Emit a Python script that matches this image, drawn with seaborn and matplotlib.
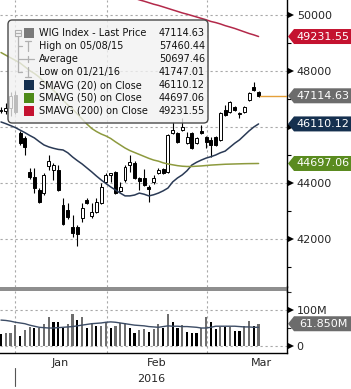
import numpy as np
import matplotlib
matplotlib.use("Agg")
import matplotlib.pyplot as plt
import seaborn as sns
from matplotlib.patches import Rectangle, FancyBboxPatch, Polygon
from matplotlib.lines import Line2D

# ---------------- data ----------------
opens = [46571, 46571, 46679, 47143, 45786, 45607, 44393, 44214, 43750, 43643,
         44607, 44464, 44464, 43214, 43036, 42429, 42429, 42750, 43393, 42821,
         42964, 43286, 44036, 44286, 44393, 43714, 44107, 44643, 44714, 44179,
         44179, 43857, 44036, 44357, 44500, 44393, 45786, 45786, 45893, 45429,
         45786, 45429, 45857, 45643, 45536, 45643, 45536, 46607, 46536, 46714,
         46464, 46536, 46964, 47429, 47250]
highs = [46714, 46857, 47250, 47286, 45857, 45679, 44536, 44536, 43821, 44357,
         45000, 44714, 44643, 43464, 43286, 42857, 42500, 43286, 43464, 43286,
         43464, 44000, 44357, 44357, 44429, 44036, 44643, 45000, 44786, 44214,
         44500, 43929, 44286, 44536, 44536, 45750, 46179, 45821, 46321, 45821,
         45821, 45643, 46071, 45679, 45643, 45679, 46536, 46786, 46929, 46750,
         46536, 46750, 47250, 47607, 47286]
lows = [46500, 46464, 46393, 46464, 45357, 45000, 44143, 43643, 43286, 43571,
        44464, 44107, 43714, 42500, 42714, 42071, 41747, 42607, 43250, 42750,
        42929, 43250, 44000, 44036, 43607, 43679, 44036, 44393, 44143, 43750,
        43893, 43321, 43964, 44321, 44321, 44357, 45750, 45429, 45857, 45393,
        45214, 45393, 45750, 45250, 44929, 45321, 45500, 46393, 46500, 46571,
        46321, 46500, 46929, 47286, 47071]
closes = [46607, 46679, 47107, 46536, 45429, 45286, 44214, 43821, 43321, 44286,
          44786, 44643, 43750, 42536, 42786, 42214, 42179, 43107, 43286, 42964,
          43321, 43857, 44286, 44357, 43643, 43857, 44571, 44750, 44179, 44071,
          43929, 43786, 44179, 44464, 44357, 45714, 45893, 45464, 46000, 45643,
          45250, 45607, 45786, 45464, 45357, 45357, 46500, 46429, 46893, 46607,
          46500, 46714, 47214, 47321, 47114.63]

sma20 = [46180, 46120, 46050, 45980, 45890, 45800, 45700, 45610, 45480, 45360,
         45290, 45240, 45200, 45180, 45080, 44930, 44800, 44680, 44540, 44400,
         44250, 44110, 43980, 43860, 43750, 43640, 43540, 43540, 43570, 43640,
         43600, 43540, 43580, 43640, 43720, 43820, 44040, 44180, 44290, 44440,
         44640, 44740, 44820, 44890, 44940, 45000, 45080, 45140, 45280, 45420,
         45540, 45700, 45860, 46000, 46110.12]
sma50 = [48660, 48565, 48473, 48380, 48286, 48152, 48018, 47911, 47784, 47614,
         47444, 47309, 47139, 46964, 46786, 46643, 46464, 46286, 46107, 45950,
         45840, 45750, 45680, 45590, 45470, 45360, 45250, 45160, 45090, 45020,
         44950, 44880, 44820, 44780, 44720, 44680, 44650, 44620, 44600, 44590,
         44590, 44600, 44610, 44625, 44640, 44650, 44660, 44670, 44675, 44680,
         44685, 44690, 44693, 44695, 44697.06]
sma200 = [52140, 52085, 52030, 51975, 51920, 51865, 51810, 51755, 51700, 51645,
          51590, 51535, 51480, 51425, 51370, 51315, 51260, 51205, 51150, 51095,
          51040, 50985, 50930, 50875, 50820, 50765, 50710, 50655, 50600, 50540,
          50493, 50440, 50386, 50343, 50290, 50236, 50182, 50129, 50075, 50030,
          49980, 49930, 49880, 49830, 49770, 49730, 49680, 49620, 49571, 49520,
          49460, 49400, 49340, 49290, 49231.55]

volume = [33, 35, 37, 58, 29, 44, 54, 49, 49, 60, 80, 68, 68, 51, 60, 88, 72, 80,
          51, 63, 56, 56, 68, 49, 56, 63, 63, 49, 35, 44, 47, 40, 46, 60, 51, 89,
          68, 51, 58, 40, 37, 37, 51, 81, 68, 47, 54, 54, 53, 42, 41, 56, 69, 56,
          61.85]
vol_dir = ["down", "up", "up", "up", "down", "up", "up", "down", "up", "up", "up",
           "down", "down", "down", "up", "up", "down", "up", "down", "up", "down",
           "up", "up", "down", "up", "up", "up", "down", "down", "up", "up", "down",
           "up", "up", "down", "up", "down", "down", "up", "down", "down", "down",
           "up", "up", "down", "down", "up", "down", "up", "down", "down", "up",
           "up", "down", "up"]
vol_ma = [72, 71, 69, 66, 64, 62, 58, 55, 52, 51, 50, 50, 51, 52, 53, 54, 56, 58,
          60, 62, 63, 64, 66, 67, 66, 64, 62, 60, 58, 57, 56, 54, 53, 52, 54, 56,
          55, 55, 54, 54, 53, 52, 50, 50, 52, 55, 55, 55, 55, 55, 54, 53, 53, 52, 52]

month_bounds = [2.9, 22.2, 43.2]
month_centers = [12.5, 32.6, 54.5]
month_labels = ["Jan", "Feb", "Mar"]
year_label = "2016"

price_ticks = [42000, 44000, 46000, 48000, 50000]
price_tick_labels = ["42000", "44000", "", "48000", "50000"]  # 46000 sits under a value tag
price_minor = [41000, 43000, 45000, 47000, 49000]
vol_ticks = [0, 100]
vol_tick_labels = ["0", "100M"]

legend_rows = ["WIG Index - Last Price", "High on 05/08/15", "Average",
               "Low on 01/21/16", "SMAVG (20) on Close", "SMAVG (50) on Close",
               "SMAVG (200) on Close"]
legend_vals = ["47114.63", "57460.44", "50697.46", "41747.01", "46110.12",
               "44697.06", "49231.55"]

# ---------------- styling ----------------
sns.set_style("white")
plt.rcParams["font.family"] = ["DejaVu Sans"]

W, H = 351, 389
fig = plt.figure(figsize=(W / 100, H / 100), dpi=100)
fig.patch.set_facecolor("white")


def fx(px):
    return px / W


def fy(py):
    return 1 - py / H


AXW = 287
ax = fig.add_axes([0, fy(287), fx(AXW), 287 / H])
axv = fig.add_axes([0, fy(353), fx(AXW), 62 / H])

XLIM = (-0.21, 59.96)
idx = np.arange(len(opens))
o = np.array(opens, float)
c = np.array(closes, float)
hi = np.array(highs, float)
lo = np.array(lows, float)
up = c >= o

C_NAVY = "#15304f"
C_GREEN = "#4e8a18"
C_RED = "#c41230"
C_GRAY = "#6c6c6c"
GRID = dict(color="#a8a8a8", lw=0.8, ls=(0, (2, 2.5)))

# ---- main price panel ----
ax.vlines(idx, lo, hi, color="black", lw=0.8, zorder=2)
body_b = np.minimum(o, c)
body_h = np.maximum(np.abs(c - o), 12)
ax.bar(idx[up], body_h[up], bottom=body_b[up], width=0.62, facecolor="white",
       edgecolor="black", lw=0.7, zorder=3)
ax.bar(idx[~up], body_h[~up], bottom=body_b[~up], width=0.62, facecolor="black",
       edgecolor="black", lw=0.7, zorder=3)

sns.lineplot(x=idx, y=sma20, ax=ax, color="#2a3a55", lw=1.1, zorder=4)
sns.lineplot(x=idx, y=sma50, ax=ax, color="#8d9a3e", lw=1.1, zorder=4)
sns.lineplot(x=idx, y=sma200, ax=ax, color="#b3294a", lw=1.1, zorder=4)
ax.plot([idx[-1] + 0.3, XLIM[1]], [closes[-1], closes[-1]], color="#e5a03a",
        lw=1.0, zorder=4)

ax.set_xlim(*XLIM)
ax.set_ylim(40286, 50536)
ax.set_xticks(month_bounds)
ax.set_xticklabels([])
ax.set_yticks(price_ticks)
ax.set_yticks(price_minor, minor=True)
ax.yaxis.tick_right()
ax.set_yticklabels(price_tick_labels)
ax.tick_params(axis="y", which="major", length=0, pad=7, labelsize=8)
ax.tick_params(axis="y", which="minor", length=3, width=0.8, direction="out",
               color="black")
ax.tick_params(axis="x", length=0)
ax.grid(True, axis="both", which="major", **GRID)
ax.set_xlabel("")
ax.set_ylabel("")
for s in ["left", "top", "bottom"]:
    ax.spines[s].set_visible(False)
ax.spines["right"].set_color("black")
ax.spines["right"].set_linewidth(1.0)

# ---- volume panel ----
sns.barplot(x=idx, y=volume, hue=vol_dir, palette={"down": "black", "up": "#6e6e6e"},
            dodge=False, native_scale=True, width=0.45, errorbar=None,
            legend=False, ax=axv, zorder=3, linewidth=0)
sns.lineplot(x=idx, y=vol_ma, ax=axv, color="#3d4d66", lw=1.0, zorder=4)
axv.set_xlim(*XLIM)
axv.set_ylim(-19.4, 152.8)
axv.set_yticks(vol_ticks)
axv.set_yticks([50, 150], minor=True)
axv.yaxis.tick_right()
axv.set_yticklabels(vol_tick_labels)
axv.tick_params(axis="y", which="major", length=0, pad=7, labelsize=8)
axv.tick_params(axis="y", which="minor", length=3, width=0.8, direction="out")
axv.set_xticks(month_bounds)
axv.set_xticklabels([])
axv.set_xticks(month_centers, minor=True)
axv.set_xticklabels(month_labels, minor=True)
axv.tick_params(axis="x", which="major", length=3, width=0.8, direction="out",
                color="black")
axv.tick_params(axis="x", which="minor", length=0, pad=3.5, labelsize=8)
axv.grid(True, axis="both", which="major", **GRID)
axv.set_xlabel("")
axv.set_ylabel("")
for s in ["left", "top"]:
    axv.spines[s].set_visible(False)
for s in ["right", "bottom"]:
    axv.spines[s].set_color("black")
    axv.spines[s].set_linewidth(1.0)

# ---- separator band, axis joins, year label ----
fig.patches.append(Rectangle((0, fy(291)), fx(AXW), 4 / H, transform=fig.transFigure,
                             facecolor="#8e8e8e", edgecolor="none", zorder=1))
fig.lines.append(Line2D([fx(AXW), fx(AXW)], [fy(286), fy(292)], transform=fig.transFigure,
                        color="black", lw=1.0))
fig.lines.append(Line2D([fx(15), fx(15)], [fy(368), fy(386)], transform=fig.transFigure,
                        color="#555555", lw=0.8))
fig.text(fx(151), fy(379), year_label, ha="center", va="center", fontsize=8)

# ---- tick arrow markers ----
fig.canvas.draw()


def disp_y(axis, val):
    return axis.transData.transform((0, val))[1]


for axis, ticks in [(ax, price_ticks), (axv, vol_ticks)]:
    for t in ticks:
        yd = disp_y(axis, t)
        if yd < fig.bbox.height * fy(353) - 1 or yd > fig.bbox.height + 1:
            continue
        fig.lines.append(Line2D([fx(291)], [yd / fig.bbox.height], transform=fig.transFigure,
                                marker=">", markersize=4.2, color="black", lw=0,
                                markeredgewidth=0))


# ---- right value labels ----
def value_tag(axis, val, text, color):
    yd = disp_y(axis, val) / fig.bbox.height
    hh = 7.5 / H
    pts = [(fx(288), yd), (fx(294), yd + hh), (fx(352), yd + hh),
           (fx(352), yd - hh), (fx(294), yd - hh)]
    fig.patches.append(Polygon(pts, closed=True, transform=fig.transFigure,
                               facecolor=color, edgecolor="none", zorder=2))
    fig.text(fx(323), yd, text, ha="center", va="center", fontsize=8,
             color="white", zorder=3)


value_tag(ax, sma200[-1], f"{sma200[-1]:.2f}", C_RED)
value_tag(ax, closes[-1], f"{closes[-1]:.2f}", C_GRAY)
value_tag(ax, sma20[-1], f"{sma20[-1]:.2f}", C_NAVY)
value_tag(ax, sma50[-1], f"{sma50[-1]:.2f}", "#5a8b1f")
value_tag(axv, volume[-1], f"{volume[-1]:.3f}M", C_GRAY)


# ---- legend box ----
def axx(px):
    return px / AXW


def axy(py):
    return 1 - py / 287


box = FancyBboxPatch((axx(8), axy(123)), axx(208) - axx(8), axy(20) - axy(123),
                     boxstyle="round,pad=0,rounding_size=0.015",
                     transform=ax.transAxes, facecolor=(0.95, 0.95, 0.95, 0.78),
                     edgecolor="#4a4a4a", lw=1.0, zorder=10, clip_on=False)
ax.add_patch(box)
row_y = [33 + 13 * k for k in range(7)]
sw_colors = {0: "#7a7a7a", 4: C_NAVY, 5: C_GREEN, 6: C_RED}
for k, (lab, val) in enumerate(zip(legend_rows, legend_vals)):
    ax.text(axx(39), axy(row_y[k]), lab, transform=ax.transAxes, fontsize=7,
            va="center", ha="left", color="#111111", zorder=12)
    ax.text(axx(205), axy(row_y[k]), val, transform=ax.transAxes, fontsize=7,
            va="center", ha="right", color="#111111", zorder=12)
    if k in sw_colors:
        ax.add_patch(Rectangle((axx(24), axy(row_y[k] + 5)), axx(10), axy(0) - axy(10),
                               transform=ax.transAxes, facecolor=sw_colors[k],
                               edgecolor="none", zorder=11))

tree = "#b0b0b0"


def seg(x0, y0, x1, y1):
    ax.add_line(Line2D([axx(x0), axx(x1)], [axy(y0), axy(y1)], transform=ax.transAxes,
                       color=tree, lw=0.9, zorder=11))


ax.add_patch(Rectangle((axx(14.5), axy(36)), axx(6), axy(0) - axy(6),
                       transform=ax.transAxes, facecolor="none", edgecolor=tree,
                       lw=0.8, zorder=11))
seg(15.5, 33, 19.5, 33)
seg(17.5, 36, 17.5, 72)
seg(17.5, 46, 22, 46)
seg(17.5, 72, 22, 72)
seg(25, 41, 31, 41)
seg(28, 41, 28, 51)
seg(17.5, 59, 34, 59)
seg(28, 56, 28, 62)
seg(28, 67, 28, 77)
seg(25, 77, 31, 77)

fig.savefig("out.png", dpi=100, facecolor="white")
